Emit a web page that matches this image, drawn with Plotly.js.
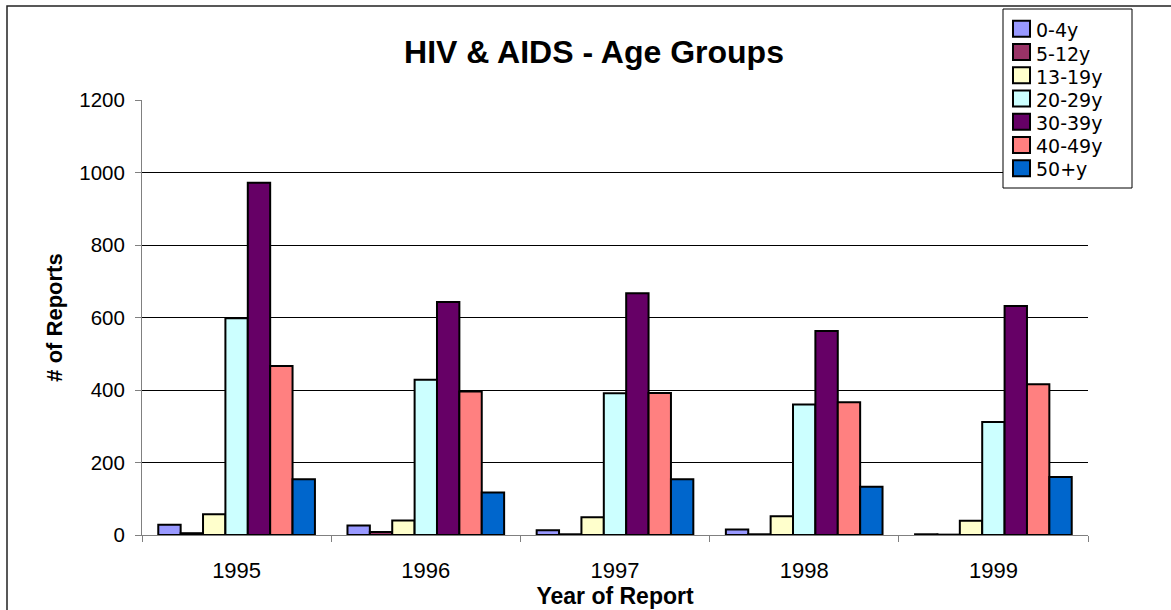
<!DOCTYPE html>
<html>
<head>
<meta charset="utf-8">
<script src="https://cdn.plot.ly/plotly-3.0.1.min.js"></script>
<style>
  html, body { margin: 0; padding: 0; background: #ffffff; }
  #chart { width: 1171px; height: 610px; }
</style>
</head>
<body>
<div id="chart"></div>
<script>
// ---- Data ----
const years = ["1995", "1996", "1997", "1998", "1999"];
const groupNames = ["0-4y", "5-12y", "13-19y", "20-29y", "30-39y", "40-49y", "50+y"];
const age0_4   = [28, 26, 13, 15, 2];
const age5_12  = [5, 8, 2, 2, 1];
const age13_19 = [57, 40, 49, 52, 39];
const age20_29 = [598, 428, 391, 360, 312];
const age30_39 = [972, 643, 667, 563, 632];
const age40_49 = [466, 396, 392, 366, 416];
const age50p   = [154, 117, 154, 133, 160];
const yTicks = [0, 200, 400, 600, 800, 1000, 1200];

// ---- Styles ----
const seriesValues = [age0_4, age5_12, age13_19, age20_29, age30_39, age40_49, age50p];
const colors = ["#9999FF", "#993366", "#FFFFCC", "#CCFFFF", "#660066", "#FF8080", "#0066CC"];
const FONT = "Liberation Sans, Arial, sans-serif";
const LEGFONT = "DejaVu Sans, Liberation Sans, sans-serif";

const traces = seriesValues.map((vals, i) => ({
  type: "bar",
  name: groupNames[i],
  x: years,
  y: vals,
  marker: { color: colors[i], line: { color: "#000000", width: 2 } },
  hoverinfo: "x+y+name",
  showlegend: false
}));

// plot area in pixels: left 142, right 1088, top 100, bottom 535
const W = 1171, H = 610;
const L = 142, R = 1088, T = 100, B = 535;
const px = v => (v - L) / (R - L);
const py = v => (B - v) / (B - T);

// Legend box (drawn as shapes + text, Excel-style tight spacing)
const legBox = { x0: 1003, x1: 1132, y0: 9, y1: 188 };
const swatchX0 = 1013, swatchX1 = 1030, swatchH = 16;
const swatchTop0 = 20.7, swatchStep = 23.27;
const textX = 1035, textY0 = 30.5, textStep = 23.1;

const shapes = [{
  type: "rect", xref: "paper", yref: "paper",
  x0: px(7), x1: px(1175), y0: py(6), y1: py(620),
  line: { color: "#222222", width: 1.5 },
  fillcolor: "rgba(0,0,0,0)",
  layer: "below"
}, {
  type: "rect", xref: "paper", yref: "paper",
  x0: px(legBox.x0), x1: px(legBox.x1), y0: py(legBox.y0), y1: py(legBox.y1),
  line: { color: "#000000", width: 1 },
  fillcolor: "#ffffff",
  layer: "above"
}];
const annotations = [];
groupNames.forEach((name, i) => {
  const top = swatchTop0 + i * swatchStep;
  shapes.push({
    type: "rect", xref: "paper", yref: "paper",
    x0: px(swatchX0), x1: px(swatchX1), y0: py(top), y1: py(top + swatchH),
    line: { color: "#000000", width: 2 },
    fillcolor: colors[i],
    layer: "above"
  });
  annotations.push({
    xref: "paper", yref: "paper",
    x: px(textX), y: py(textY0 + i * textStep),
    xanchor: "left", yanchor: "middle",
    text: name, showarrow: false,
    font: { family: LEGFONT, size: 19, color: "#000000" },
    borderpad: 0
  });
});

const layout = {
  width: W, height: H,
  margin: { l: L, r: W - R, t: T, b: H - B, pad: 0 },
  paper_bgcolor: "#ffffff",
  plot_bgcolor: "#ffffff",
  font: { family: FONT, color: "#000000", size: 20 },
  barmode: "group",
  bargap: 0.172,
  bargroupgap: 0,
  showlegend: false,
  title: {
    text: "<b>HIV & AIDS - Age Groups</b>",
    font: { family: FONT, size: 32, color: "#000000" },
    xref: "container", x: 594 / W, xanchor: "center",
    yref: "container", y: 1 - 51.5 / H, yanchor: "middle"
  },
  xaxis: {
    type: "category",
    tickson: "boundaries",
    ticks: "outside", ticklen: 6, tickcolor: "#808080", tickwidth: 1,
    showline: true, linecolor: "#808080", linewidth: 1,
    showgrid: false, zeroline: false,
    tickfont: { family: FONT, size: 22 },
    ticklabelstandoff: 16,
    title: { text: "<b>Year of Report</b>", font: { family: FONT, size: 23 }, standoff: 0 },
    automargin: false,
    fixedrange: true
  },
  yaxis: {
    range: [0, 1200],
    tickvals: yTicks,
    ticktext: yTicks.map(String),
    ticks: "outside", ticklen: 6, tickcolor: "#808080", tickwidth: 1,
    showline: true, linecolor: "#808080", linewidth: 1,
    showgrid: true, gridcolor: "#000000", gridwidth: 1,
    zeroline: false,
    tickfont: { family: FONT, size: 20.5 },
    ticklabelstandoff: 6,
    title: { text: "<b># of Reports</b>", font: { family: FONT, size: 22 }, standoff: 10 },
    automargin: false,
    fixedrange: true
  },
  shapes: shapes,
  annotations: annotations
};

Plotly.newPlot("chart", traces, layout, { displayModeBar: false });
</script>
</body>
</html>
